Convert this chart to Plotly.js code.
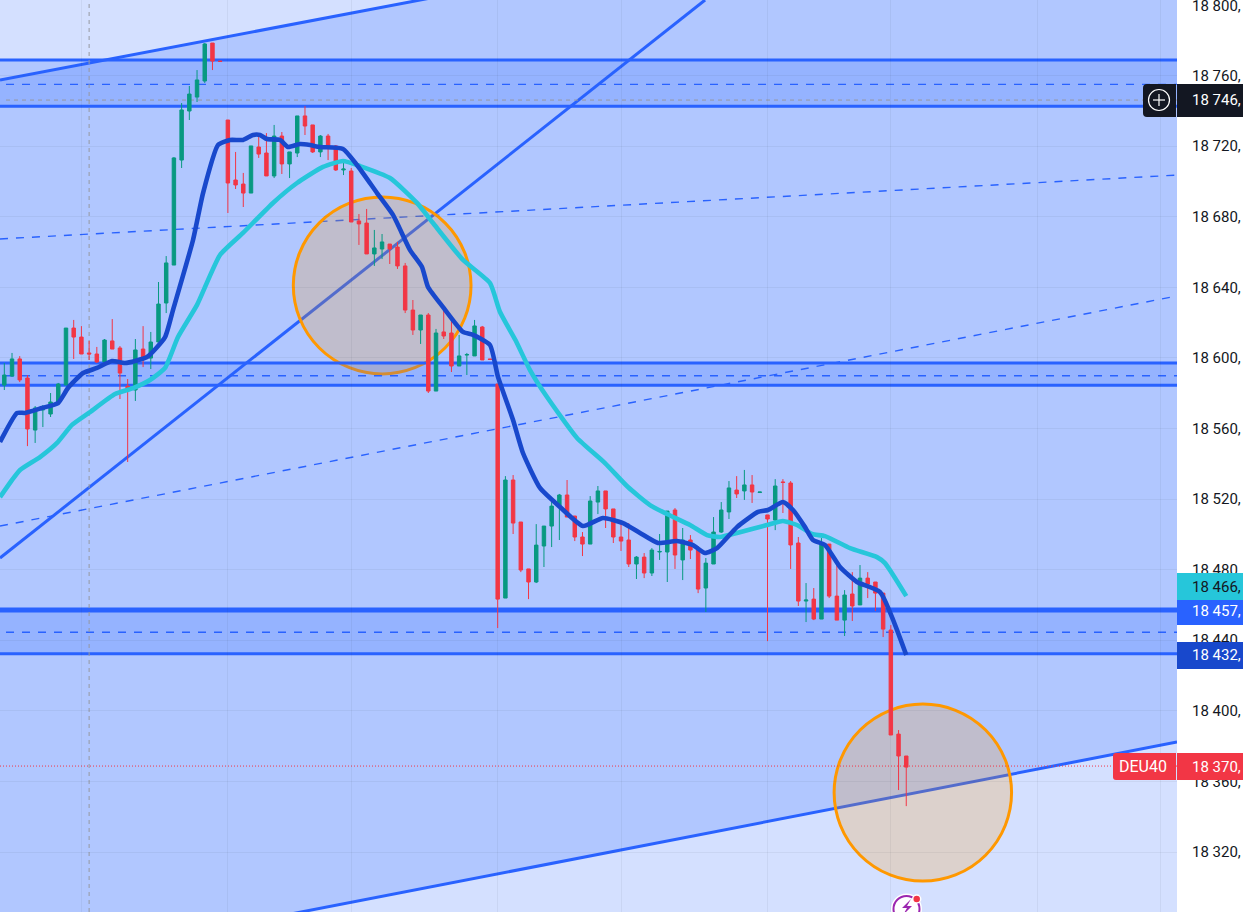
<!DOCTYPE html>
<html><head><meta charset="utf-8">
<script src="https://cdn.plot.ly/plotly-3.0.1.min.js"></script>
<style>html,body{margin:0;padding:0;background:#fff;overflow:hidden}#c{width:1243px;height:912px}</style>
</head><body><div id="c"></div>
<script>
const candleOpen=[18584.6,18589.7,18599.4,18588.6,18559.1,18570.5,18568.2,18575.0,18584.6,18616.9,18611.8,18602.8,18602.2,18597.7,18609.6,18605.6,18584.0,18581.8,18605.0,18599.9,18609.0,18631.1,18652.6,18712.1,18739.9,18747.8,18756.9,18778.4,18768.2,18734.8,18700.8,18698.5,18693.4,18719.5,18716.1,18703.1,18725.7,18709.9,18716.1,18737.1,18732.0,18716.7,18725.7,18720.1,18706.5,18705.9,18677.6,18676.4,18658.9,18661.7,18664.5,18662.8,18652.1,18627.1,18615.8,18624.3,18581.2,18614.7,18614.1,18595.4,18601.6,18601.1,18617.5,18599.4,18585.2,18463.9,18530.8,18507.0,18480.4,18473.0,18493.4,18504.7,18516.0,18522.3,18510.4,18498.5,18494.5,18518.3,18524.6,18514.4,18498.5,18496.8,18483.2,18487.1,18478.1,18490.0,18490.0,18513.8,18485.5,18496.8,18491.7,18469.6,18483.2,18501.3,18512.7,18525.1,18524.6,18528.0,18523.7,18511.0,18508.1,18529.7,18529.1,18495.1,18462.2,18463.3,18452.0,18494.5,18465.0,18451.4,18466.2,18460.0,18475.2,18473.0,18466.7,18445.8,18386.8,18374.4];
const candleHigh=[18597.1,18602.8,18601.0,18590.3,18572.7,18573.3,18580.1,18585.8,18616.9,18621.5,18618.0,18609.6,18606.2,18610.7,18622.0,18606.7,18588.0,18610.7,18618.0,18614.7,18643.0,18657.7,18713.8,18744.4,18754.1,18763.1,18778.4,18778.4,18768.2,18734.8,18716.7,18704.8,18720.1,18725.7,18727.4,18732.0,18728.0,18716.7,18737.1,18742.7,18732.0,18726.3,18726.9,18720.6,18711.0,18707.6,18681.5,18684.4,18672.5,18670.2,18664.5,18665.7,18653.8,18632.8,18624.3,18625.4,18616.4,18627.7,18621.5,18613.0,18602.8,18621.5,18618.1,18599.4,18585.2,18533.0,18533.6,18507.0,18480.4,18505.8,18504.7,18520.0,18522.9,18530.8,18510.4,18501.3,18521.7,18527.4,18524.6,18514.4,18507.0,18506.4,18487.7,18489.4,18492.2,18500.2,18513.2,18514.9,18503.6,18499.6,18493.4,18486.6,18509.8,18518.3,18530.2,18533.0,18536.5,18533.6,18523.7,18511.0,18531.3,18531.3,18530.2,18498.5,18472.4,18469.6,18497.9,18494.5,18483.7,18468.4,18478.6,18482.6,18478.6,18473.0,18466.7,18448.6,18389.1,18374.4];
const candleLow=[18581.8,18589.2,18586.3,18550.0,18551.8,18560.8,18566.5,18575.0,18584.6,18599.4,18602.2,18598.8,18597.1,18596.5,18605.0,18576.7,18541.0,18575.6,18594.8,18593.7,18609.0,18625.4,18652.6,18707.6,18734.8,18745.0,18755.8,18763.1,18768.0,18682.1,18695.7,18685.5,18693.4,18713.3,18703.1,18701.9,18704.2,18701.9,18713.8,18726.3,18716.1,18713.8,18712.1,18705.9,18703.6,18677.0,18664.0,18658.9,18652.1,18656.0,18653.2,18650.4,18625.4,18613.0,18607.9,18580.1,18581.2,18610.7,18592.0,18595.4,18590.3,18601.1,18598.8,18599.1,18446.9,18463.9,18500.2,18478.6,18463.3,18472.4,18481.5,18492.8,18496.8,18509.8,18496.2,18487.7,18494.5,18511.5,18503.6,18495.1,18490.6,18481.5,18474.7,18475.2,18476.4,18485.5,18473.0,18480.4,18474.1,18486.0,18466.7,18456.0,18483.2,18500.8,18508.7,18520.6,18519.5,18517.8,18523.7,18439.5,18502.4,18512.1,18480.4,18459.4,18450.3,18451.4,18452.0,18463.9,18451.4,18442.4,18450.9,18460.0,18463.9,18456.6,18441.8,18386.3,18355.1,18346.0];
const candleClose=[18590.3,18599.4,18587.5,18559.7,18571.6,18571.3,18575.0,18585.2,18616.9,18611.8,18602.2,18602.2,18597.7,18610.1,18605.0,18591.4,18581.8,18604.5,18599.9,18609.0,18630.5,18653.8,18713.3,18740.5,18749.5,18757.5,18777.9,18768.2,18768.0,18699.1,18698.0,18693.4,18720.1,18715.5,18703.1,18725.7,18709.9,18716.7,18737.1,18731.4,18716.7,18725.7,18720.1,18706.5,18707.0,18677.0,18675.9,18658.9,18662.3,18665.7,18661.7,18652.1,18627.1,18615.8,18624.3,18581.2,18614.1,18612.4,18595.4,18601.1,18601.9,18618.1,18598.8,18599.1,18463.3,18530.8,18506.4,18479.8,18473.0,18493.9,18504.7,18516.0,18522.3,18509.8,18498.5,18494.5,18518.9,18524.6,18514.4,18498.5,18496.2,18483.2,18487.1,18478.1,18491.1,18490.3,18513.2,18488.3,18496.8,18491.1,18469.0,18483.7,18501.3,18513.8,18526.3,18522.9,18528.0,18524.0,18524.0,18508.7,18527.4,18529.4,18494.0,18462.2,18462.8,18452.0,18495.1,18465.0,18451.4,18465.6,18459.4,18475.2,18471.8,18466.7,18446.3,18386.3,18374.4,18368.1];

const fastX=[-0.56,1.65,2.69,4.89,6.97,8.26,10.21,12.02,13.97,15.66,18.51,20.85,21.88,24.48,25.78,27.72,29.28,30.96,32.26,33.17,34.08,35.76,36.8,38.36,39.66,40.95,43.94,45.75,48.35,50.42,52.63,54.18,54.96,56.91,59.5,60.8,63,64.04,65.99,67.28,69.49,72.08,75.07,77.66,80.26,82.46,84.8,87.26,89.34,90.89,92.45,95.04,97.77,99.07,101.01,102.31,103.87,104.9,106.46,108.41,110.6,113.6,117];
const fastY=[18552.3,18568.8,18568.8,18571.6,18574.4,18582.9,18591.4,18594.3,18598.2,18597.1,18600.5,18611.8,18627.1,18666.8,18693.4,18720.6,18723.5,18723.5,18726.3,18726.3,18724.0,18723.5,18719.5,18721.2,18720.6,18719.5,18718.4,18709.3,18693.4,18681.0,18661.1,18651.5,18640.2,18628.8,18614.7,18613.0,18607.3,18589.2,18564.8,18546.1,18526.3,18515.5,18504.7,18509.3,18506.4,18500.8,18495.1,18496.2,18493.9,18489.4,18492.2,18504.1,18512.7,18513.8,18518.3,18513.8,18504.1,18496.8,18494.0,18481.5,18473.0,18467.3,18431.6];
const slowX=[-0.56,1,2.04,4.63,6.84,8.78,11.12,14.36,16.7,18.9,20.85,22.53,25,27.98,30.96,34.85,37.97,41.34,43.94,46.14,50.03,53.53,55.61,59.5,63,64.3,66.3,68.19,70.4,74.29,77.92,80.9,83.76,85.97,88.95,91.15,92.83,95.04,98.93,101,102.83,104.78,106.46,109.7,113.2,114.24,117];
const slowY=[18521.1,18530.8,18536.5,18543.8,18551.8,18562.0,18569.3,18579.5,18582.9,18587.5,18594.3,18611.8,18630.0,18658.3,18670.8,18687.8,18699.1,18708.2,18711.6,18708.7,18701.9,18687.8,18676.4,18655.5,18642.4,18626.0,18610.1,18593.1,18577.8,18554.6,18540.4,18526.8,18516.6,18511.5,18505.3,18499.6,18498.5,18500.8,18505.3,18507.6,18505.3,18500.2,18499.0,18492.2,18487.1,18483.7,18465.0];

const priceTicks=[18800,18760,18720,18680,18640,18600,18560,18520,18480,18440,18400,18360,18320];
const priceTickText=['18 800,','18 760,','18 720,','18 680,','18 640,','18 600,','18 560,','18 520,','18 480,','18 440,','18 400,','18 360,','18 320,'];
const timeGrid=[10,29,45,64,80,99,115,134,150];
const bandTop=[18768.8,18597.1,18457.1];
const bandBottom=[18742.6,18584.5,18432.3];
const bandMid=[18755.0,18589.9,18444.5];
const bandEdgeWidth=[[3,3],[3,3],[5,3]];
const xEdges=[-0.56,152.12];
const channelUpper=[18757.5,18884.4];
const channelLower=[18252.9,18382.3];
const midDashA=[18667.4,18703.6];
const midDashB=[18504.7,18635.1];
const diagonalX=[-0.56,90.9];
const diagonalY=[18486.6,18802.8];
const circleA={x:[37.49,60.54],y:[18590.9,18691.2]};
const circleB={x:[107.64,130.66],y:[18303.5,18403.8]};
const crossX=11, crossY=18746.1, lastPrice=18368.7;
const tagText={fast:'18 432,',slow:'18 466,',band:'18 457,',last:'18 370,',cross:'18 746,',sym:'DEU40'};

const W=1177,H=912,BLUE='#2962ff';
const px=x=>x/W, py=y=>1-y/H;
const ln=(x0,y0,x1,y1,color,width,dash)=>({type:'line',layer:'below',xref:'x',yref:'y',x0,y0,x1,y1,line:{color,width,dash:dash||'solid'}});
const I=xEdges[0],J=xEdges[1];
const shapes=[];
shapes.push({type:'path',layer:'below',xref:'x',yref:'y',line:{width:0},fillcolor:'rgba(41,98,255,0.2)',
  path:`M${I},${channelUpper[0]}L${J},${channelUpper[1]}L${J},${channelLower[1]}L${I},${channelLower[0]}Z`});
shapes.push(ln(I,midDashA[0],J,midDashA[1],BLUE,1.4,'8px,8px'));
shapes.push(ln(I,midDashB[0],J,midDashB[1],BLUE,1.4,'8px,8px'));
shapes.push(ln(I,channelUpper[0],J,channelUpper[1],BLUE,3));
shapes.push(ln(I,channelLower[0],J,channelLower[1],BLUE,3));
shapes.push(ln(diagonalX[0],diagonalY[0],diagonalX[1],diagonalY[1],BLUE,3));
[circleA,circleB].forEach(c=>shapes.push({type:'circle',layer:'below',xref:'x',yref:'y',x0:c.x[0],x1:c.x[1],y0:c.y[0],y1:c.y[1],fillcolor:'rgba(255,152,0,0.2)',line:{color:'#ff9800',width:3}}));
bandTop.forEach((t,k)=>{
  shapes.push({type:'rect',layer:'below',xref:'x',yref:'y',x0:I,x1:J,y0:bandBottom[k],y1:t,fillcolor:'rgba(41,98,255,0.2)',line:{width:0}});
  shapes.push(ln(I,t,J,t,BLUE,bandEdgeWidth[k][0]));
  shapes.push(ln(I,bandBottom[k],J,bandBottom[k],BLUE,bandEdgeWidth[k][1]));
  shapes.push(ln(0.22,bandMid[k],J,bandMid[k],BLUE,1.4,'8px,8px'));
});
shapes.push(ln(crossX,18286,crossX,18802.8,'#9598a1',1,'4px,4px'));
shapes.push(ln(0.22,crossY,J,crossY,'#9598a1',1,'4px,4px'));
shapes.push(ln(I,lastPrice,J,lastPrice,'#f23645',1,'1px,2px'));

const box=(x0,x1,y0,y1,color)=>({type:'rect',layer:'above',xref:'paper',yref:'paper',x0:px(x0),x1:px(x1),y0:py(y1),y1:py(y0),fillcolor:color,line:{width:0}});
const rounded=(x0,x1,y0,y1,r,color)=>({type:'path',layer:'above',xref:'paper',yref:'paper',fillcolor:color,line:{width:0},
  path:`M${px(x1)},${py(y0)}L${px(x0+r)},${py(y0)}Q${px(x0)},${py(y0)} ${px(x0)},${py(y0+r)}L${px(x0)},${py(y1-r)}Q${px(x0)},${py(y1)} ${px(x0+r)},${py(y1)}L${px(x1)},${py(y1)}Z`});
const disc=(cx,cy,r,fill,stroke,w)=>({type:'circle',layer:'above',xref:'paper',yref:'paper',x0:px(cx-r),x1:px(cx+r),y0:py(cy+r),y1:py(cy-r),fillcolor:fill,line:{color:stroke,width:w}});
const seg=(x0,y0,x1,y1,c,w)=>({type:'line',layer:'above',xref:'paper',yref:'paper',x0:px(x0),y0:py(y0),x1:px(x1),y1:py(y1),line:{color:c,width:w}});
shapes.push(box(1177,1243,573,600,'#26c6da'),box(1177,1243,600,625,BLUE),box(1177,1243,642,669,'#1848cc'),box(1177,1243,753,780,'#f23645'),box(1177,1243,84,117,'#131722'));
shapes.push(rounded(1113,1176,753,780,3,'#f23645'),rounded(1143,1176,84,117,4,'#131722'));
shapes.push(disc(1159,100,10.5,'rgba(0,0,0,0)','#ffffff',1.2),seg(1153,100,1165,100,'#ffffff',1.2),seg(1159,94,1159,106,'#ffffff',1.2));
shapes.push(disc(906.5,909,14,'#ffffff','#ffffff',3),disc(906.5,909,13,'#ffffff','#9c27b0',2));
shapes.push({type:'path',layer:'above',xref:'paper',yref:'paper',fillcolor:'#9c27b0',line:{width:0},
  path:`M${px(911)},${py(899)}L${px(902)},${py(908)}L${px(907)},${py(908)}L${px(903)},${py(915)}L${px(912)},${py(906)}L${px(907)},${py(906)}Z`});
shapes.push(disc(916.7,899,4,'#f23645','#ffffff',1.5));

const tag=(y,text,color,x,size)=>({xref:'paper',yref:'paper',x:px(x),y:py(y),xanchor:'left',yanchor:'middle',text,showarrow:false,font:{family:'Roboto',size:size||15,color},align:'left',borderpad:0,xshift:-1});
const annotations=[
  tag(6,priceTickText[0],'#131722',1192),
  tag(586.5,tagText.slow,'#131722',1192),tag(611,tagText.band,'#ffffff',1192),tag(655,tagText.fast,'#ffffff',1192),
  tag(766.5,tagText.last,'#ffffff',1192),tag(100,tagText.cross,'#ffffff',1192),tag(766.5,tagText.sym,'#ffffff',1119,16)
];

const idx=candleOpen.map((_,i)=>i);
const traces=[
 {type:'candlestick',x:idx,open:candleOpen,high:candleHigh,low:candleLow,close:candleClose,whiskerwidth:0,hoverinfo:'skip',
  increasing:{line:{color:'#089981',width:1},fillcolor:'#089981'},decreasing:{line:{color:'#f23645',width:1},fillcolor:'#f23645'}},
 {type:'scatter',mode:'lines',x:slowX,y:slowY,line:{color:'#26c6da',width:4.6,shape:'spline',smoothing:0.5},hoverinfo:'skip'},
 {type:'scatter',mode:'lines',x:fastX,y:fastY,line:{color:'#1848cc',width:4.6,shape:'spline',smoothing:0.5},hoverinfo:'skip'}
];
const layout={width:1243,height:912,margin:{l:0,r:66,t:0,b:0,pad:0},paper_bgcolor:'#ffffff',plot_bgcolor:'#d4e0ff',showlegend:false,boxgap:0.36,
 xaxis:{range:xEdges,tickmode:'array',tickvals:timeGrid,showticklabels:false,ticks:'',showgrid:true,gridcolor:'rgba(42,46,57,0.06)',gridwidth:1,zeroline:false,showline:false,rangeslider:{visible:false},fixedrange:true},
 yaxis:{range:[18286,18802.8],side:'right',tickmode:'array',tickvals:priceTicks.slice(1),ticktext:priceTickText.slice(1),ticks:'',ticklabelstandoff:14,showgrid:true,gridcolor:'rgba(42,46,57,0.06)',gridwidth:1,zeroline:false,showline:false,automargin:false,fixedrange:true,tickfont:{family:'Roboto',size:15,color:'#131722'}},
 shapes,annotations};
Plotly.newPlot('c',traces,layout,{displayModeBar:false,staticPlot:true});
</script></body></html>
